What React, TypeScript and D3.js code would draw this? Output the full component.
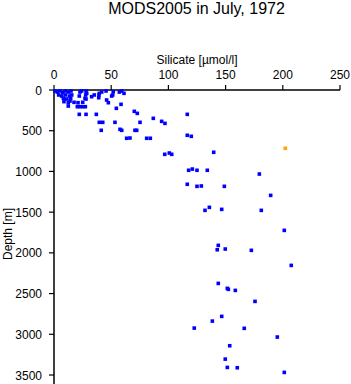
import React from "react";
import * as d3 from "d3";

const title = "MODS2005 in July, 1972";
const xLabel = "Silicate [\u00b5mol/l]";
const yLabel = "Depth [m]";
const xTicks = [0, 50, 100, 150, 200, 250];
const yTicks = [0, 500, 1000, 1500, 2000, 2500, 3000, 3500];

// silicate values (µmol/l)
const silicate = [
  0.9, 2.9, 5.2, 7.6, 9.9, 12.5, 14.9, 4.1, 6.7, 9.9, 13.4, 8.2, 11.1, 14.6, 8.7, 14,
  15.5, 22.7, 24.2, 28, 28.6, 22.1, 27.7, 27.1, 32.9, 35.2, 39.3, 39.1, 39.6, 41.7, 45.5,
  12.5, 17.5, 21, 25.1, 20.4, 22.7, 25.1, 27.4, 12.5, 22.1, 28, 37, 39.6, 42.6, 41.3, 28,
  46, 47.5, 51.3, 51.8, 50.4, 57.1, 59.2, 61.2, 58.6, 54.5, 53.3, 57.7, 59.2, 63.5, 66.4,
  70.2, 72.8, 75.2, 70.8, 72.3, 81, 84.2, 86.8, 94.1, 97, 96.8, 100.8, 102.9,
  116.5, 116.5, 120, 139.6, 117.7, 120.9, 125, 134, 179.5, 116.5, 125, 128.8, 148.9, 189.4,
  132, 135.8, 146.6, 181.2, 201.3, 143.6, 142.7, 149.7, 172.5, 207.4, 143.6, 151.5, 152.4,
  158.5, 175.7, 146.6, 138.4, 122.6, 166.3, 195.2, 153.6, 149.7, 151.5, 160.2, 201.3,
];
// depth values (m)
const depth = [
  12, 25, 12, 33, 12, 25, 12, 61, 74, 61, 74, 102, 111, 102, 143, 135,
  61, 25, 12, 12, 41, 74, 61, 102, 82, 61, 61, 95, 41, 25, 12,
  156, 151, 156, 151, 205, 205, 205, 205, 197, 299, 299, 299, 397, 397, 495, 111,
  123, 156, 61, 21, 74, 25, 12, 41, 176, 225, 397, 483, 495, 593, 590,
  262, 287, 397, 495, 495, 593, 593, 348, 385, 410, 790, 774, 790,
  299, 556, 569, 765, 986, 971, 986, 986, 1032, 1158, 1183, 1179, 1183, 1294,
  1478, 1441, 1466, 1478, 1724, 1908, 1962, 1953, 1969, 2154, 2375, 2436, 2448,
  2461, 2596, 2780, 2838, 2924, 2927, 3034, 3141, 3305, 3407, 3411, 3468,
];
// highlighted sample
const highlightSilicate = [202.2];
const highlightDepth = [716];

const W = 351;
const H = 384;
const left = 54;
const right = 340;
const top = 90;

const x = d3.scaleLinear().domain([0, 250]).range([left, right]);
const y = d3.scaleLinear().domain([0, 3500]).range([top, top + 285]);

const font = "'Liberation Sans', Arial, Helvetica, sans-serif";

export default function App() {
  const pts = silicate.map((s, i) => ({ s, d: depth[i] }));
  const hl = highlightSilicate.map((s, i) => ({ s, d: highlightDepth[i] }));
  const sz = 3.6;
  return (
    <svg
      width={W}
      height={H}
      style={{ position: "absolute", left: 0, top: 0, background: "#fff" }}
      fontFamily={font}
    >
      <rect x={0} y={0} width={W} height={H} fill="#fff" />
      <text x={196.5} y={14} textAnchor="middle" fontSize={16} fill="#000">
        {title}
      </text>
      <text x={197} y={64} textAnchor="middle" fontSize={12} fill="#000">
        {xLabel}
      </text>
      <text
        transform={`translate(12, 234) rotate(-90)`}
        textAnchor="middle"
        fontSize={12}
        fill="#000"
      >
        {yLabel}
      </text>
      {/* top axis */}
      <line x1={left} x2={right} y1={top} y2={top} stroke="#000" strokeWidth={1.5} />
      {xTicks.map((t) => (
        <g key={"xt" + t}>
          <line x1={x(t)} x2={x(t)} y1={top} y2={top - 5} stroke="#000" strokeWidth={1.2} />
          <text x={x(t)} y={top - 11} textAnchor="middle" fontSize={12} fill="#000">
            {t}
          </text>
        </g>
      ))}
      {/* left axis */}
      <line x1={left} x2={left} y1={top} y2={H} stroke="#000" strokeWidth={1.5} />
      {yTicks.map((t) => (
        <g key={"yt" + t}>
          <line x1={left} x2={left - 5} y1={y(t)} y2={y(t)} stroke="#000" strokeWidth={1.2} />
          <text x={42} y={y(t) + 4.5} textAnchor="end" fontSize={12} fill="#000">
            {t}
          </text>
        </g>
      ))}
      {pts.map((p, i) => (
        <rect
          key={"p" + i}
          x={x(p.s) - sz / 2}
          y={y(p.d) - sz / 2}
          width={sz}
          height={sz}
          fill="#0000ff"
        />
      ))}
      {hl.map((p, i) => (
        <rect
          key={"h" + i}
          x={x(p.s) - sz / 2}
          y={y(p.d) - sz / 2}
          width={sz}
          height={sz}
          fill="#ffa500"
        />
      ))}
    </svg>
  );
}
